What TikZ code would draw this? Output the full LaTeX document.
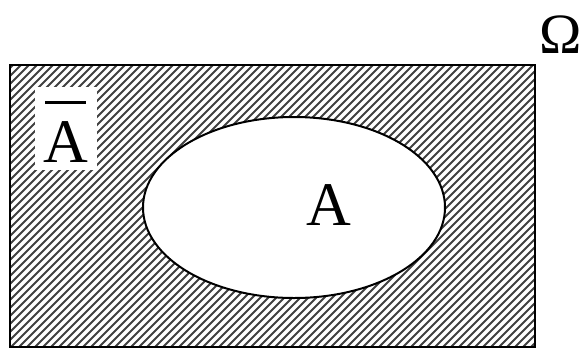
\documentclass[tikz,border=0pt]{standalone}
\usepackage{fontspec}
\setmainfont{Liberation Serif}
\usetikzlibrary{shapes.geometric}
\begin{document}
\begin{tikzpicture}[x=1pt,y=-1pt,
  lbl/.style={font=\fontsize{62}{64}\selectfont, inner sep=0pt, anchor=base},
  hatch/.style={line width=1.9pt, black!75},
  frame/.style={draw, line width=2.6pt, minimum width=525pt, minimum height=282pt, inner sep=0pt},
  setA/.style={draw, ellipse, line width=2pt, fill=white, minimum width=302pt, minimum height=181pt, inner sep=0pt}]
\useasboundingbox (0,0) rectangle (583,349);
\begin{scope}
  \clip (10,65) rectangle (535,347);
  \foreach \i in {0,...,105} {
    \draw[hatch] (\i*8-285,347) -- ++(300,-300);
  }
\end{scope}
\node[frame] (omega) at (272.5,206) {};
\node[setA] (ellA) at (294,207.5) {};
\node[lbl] (a) at (328.5,225) {A};
\node[fill=white, minimum width=62pt, minimum height=83pt, inner sep=0pt] (abarbox) at (66,128.5) {};
\node[lbl] (abar) at (65.5,162) {A};
\draw[line width=3pt] ([shift={(-20.5,-60)}]abar.base) -- ++(41,0);
\node[lbl, font=\fontsize{57}{60}\selectfont] (omegalabel) at (561,53) {Ω};
\end{tikzpicture}
\end{document}
